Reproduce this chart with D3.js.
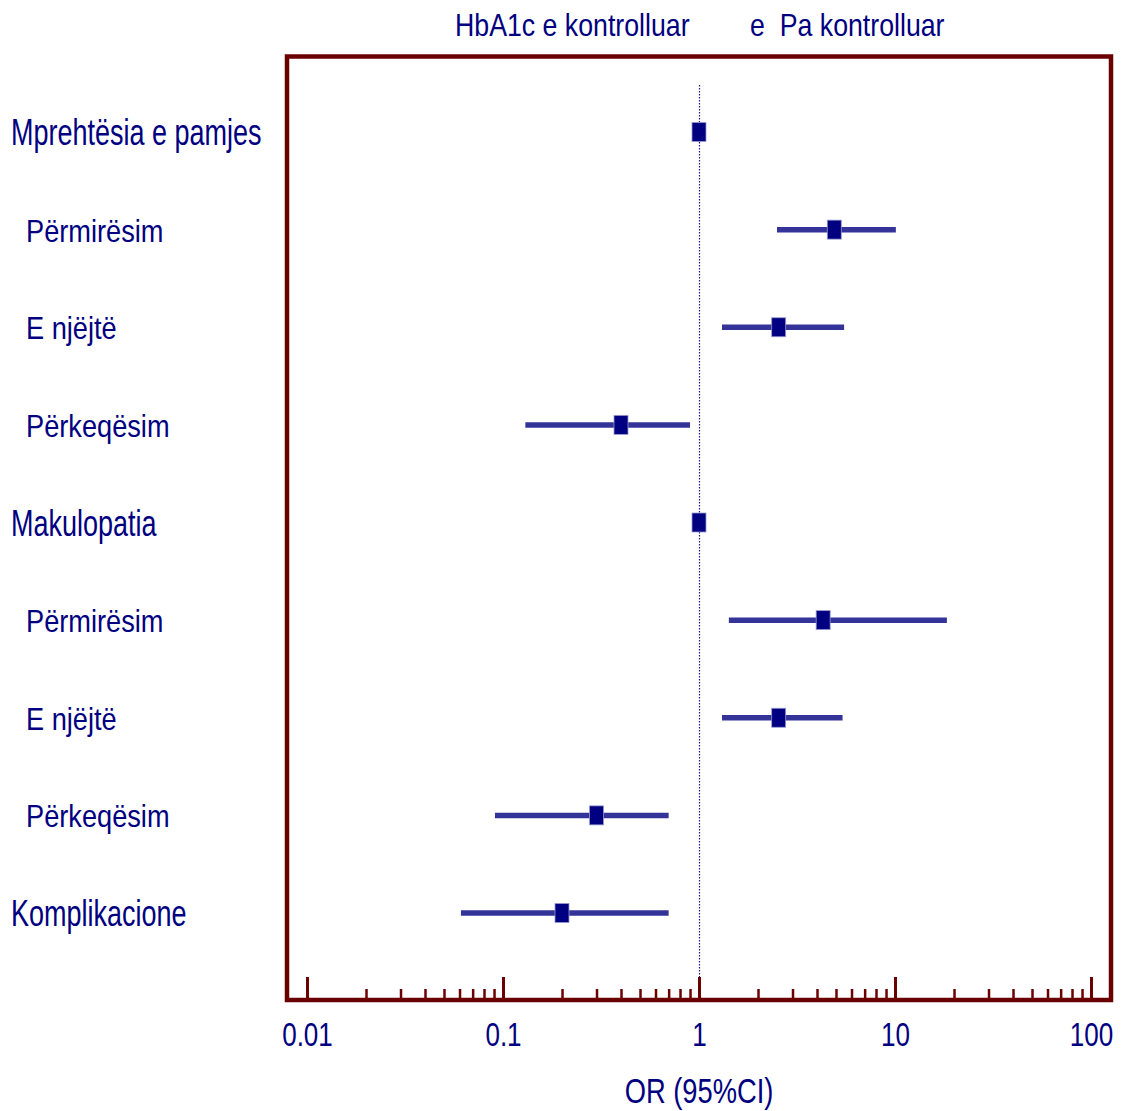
<!DOCTYPE html>
<html><head><meta charset="utf-8">
<script src="https://cdn.jsdelivr.net/npm/d3@7"></script>
<style>
html,body{margin:0;padding:0;background:#fff;}
svg{display:block;}
text{font-family:"Liberation Sans",Arial,Helvetica,sans-serif;fill:#000080;white-space:pre;}
</style></head>
<body>
<svg id="chart" width="1122" height="1111"></svg>
<script>
const labels = ["Mprehtësia e pamjes","Përmirësim","E njëjtë","Përkeqësim","Makulopatia","Përmirësim","E njëjtë","Përkeqësim","Komplikacione"];
const isHeading = [true,false,false,false,true,false,false,false,true];
const orValues = [1, 4.9, 2.55, 0.40, 1, 4.3, 2.55, 0.30, 0.20];
const ciLow    = [null, 2.5, 1.31, 0.13, null, 1.42, 1.31, 0.091, 0.061];
const ciHigh   = [null, 10.1, 5.5, 0.90, null, 18.4, 5.4, 0.70, 0.70];
const majorTicks = [0.01, 0.1, 1, 10, 100];
const majorTickLabels = ["0.01","0.1","1","10","100"];
const minorTicks = [0.02,0.03,0.04,0.05,0.06,0.07,0.08,0.09,0.2,0.3,0.4,0.5,0.6,0.7,0.8,0.9,2,3,4,5,6,7,8,9,20,30,40,50,60,70,80,90];
const leftTitle = "HbA1c e kontrolluar";
const rightTitle = "e  Pa kontrolluar";
const xTitle = "OR (95%CI)";

const svg = d3.select("#chart");
const frame = {l:287, r:1111, t:56.5, b:1000};
const red = "#6b0000";
const navy = "#000080";
const ciColor = "#333399";

const x = d3.scaleLog().domain([0.01,100]).range([307,1091]);
const y = d3.scalePoint().domain(d3.range(labels.length)).range([132,913]);

// frame
svg.append("rect").attr("x",frame.l).attr("y",frame.t)
  .attr("width",frame.r-frame.l).attr("height",frame.b-frame.t)
  .attr("fill","none").attr("stroke",red).attr("stroke-width",4.5);

// reference line at OR = 1
svg.append("line").attr("x1",x(1)+0.5).attr("x2",x(1)+0.5).attr("y1",85).attr("y2",frame.b)
  .attr("stroke","#1a1a8a").attr("stroke-width",1.2).attr("stroke-dasharray","1.5,1.5");

// minor ticks
const minorAxis = d3.axisBottom(x).tickValues(minorTicks).tickSizeInner(-11).tickSizeOuter(0).tickFormat("");
const gMin = svg.append("g").attr("transform",`translate(0,${frame.b})`).call(minorAxis);
gMin.select(".domain").remove();
gMin.selectAll(".tick line").attr("stroke",red).attr("stroke-width",2.5);

// major ticks + labels
const majorAxis = d3.axisBottom(x).tickValues(majorTicks).tickSizeInner(-23).tickSizeOuter(0)
  .tickPadding(23).tickFormat((d,i)=>majorTickLabels[i]);
const gMaj = svg.append("g").attr("transform",`translate(0,${frame.b})`).call(majorAxis);
gMaj.select(".domain").remove();
gMaj.selectAll(".tick line").attr("stroke",red).attr("stroke-width",3);
gMaj.selectAll(".tick text").attr("font-size",33).attr("fill",navy)
  .attr("font-family","'Liberation Sans',Arial,sans-serif")
  .attr("transform","scale(0.79,1)");

// helper for condensed text
function ctext(xp, yp, str, size, sx, anchor){
  return svg.append("text")
    .attr("transform",`translate(${xp},${yp}) scale(${sx},1)`)
    .attr("text-anchor",anchor||"start")
    .attr("font-size",size).text(str);
}

// titles
ctext(455, 36, leftTitle, 32, 0.835, "start");
ctext(750, 36, rightTitle, 32, 0.835, "start");
ctext(699, 1103, xTitle, 35, 0.78, "middle");

// row labels
labels.forEach((lab,i)=>{
  if(isHeading[i]) ctext(11, y(i)+13, lab, 36, 0.75, "start");
  else ctext(26, y(i)+12, lab, 32, 0.85, "start");
});

// CI lines
const rows = d3.range(labels.length);
svg.append("g").selectAll("line").data(rows.filter(i=>ciLow[i]!==null)).join("line")
  .attr("x1",i=>x(ciLow[i])).attr("x2",i=>x(ciHigh[i]))
  .attr("y1",i=>y(i)).attr("y2",i=>y(i))
  .attr("stroke",ciColor).attr("stroke-width",5.5);

// markers
svg.append("g").selectAll("rect").data(rows).join("rect")
  .attr("x",i=>x(orValues[i])-7).attr("y",i=>y(i)-9.5)
  .attr("width",14).attr("height",19)
  .attr("fill",navy).attr("stroke","#9a9ad0").attr("stroke-width",0.8);
</script>
</body></html>
